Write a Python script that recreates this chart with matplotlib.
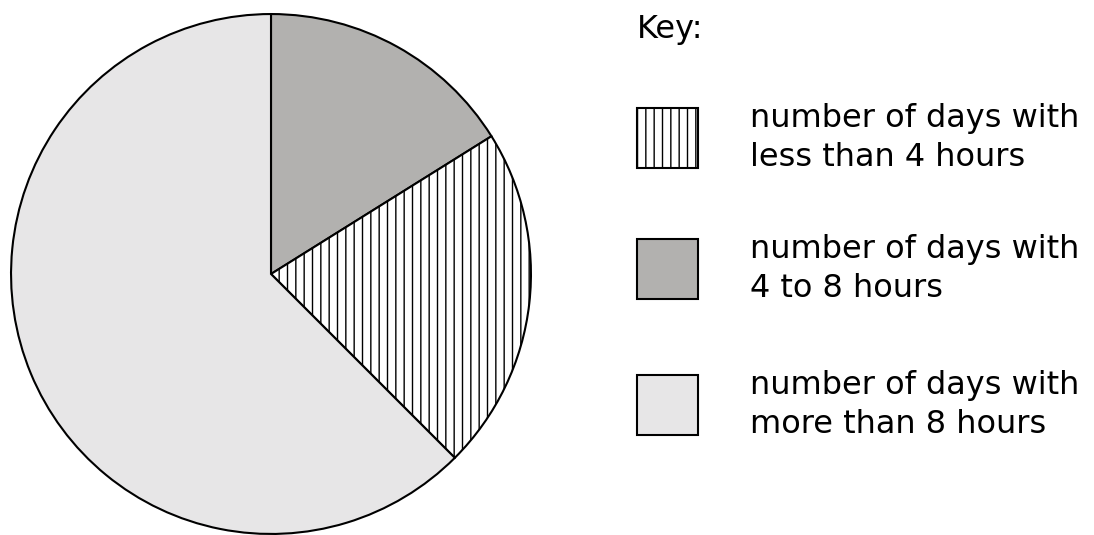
import matplotlib
matplotlib.use("Agg")
import matplotlib.pyplot as plt
from matplotlib.patches import Rectangle

# Data (slice sizes, in degrees of the circle)
categories = ["number of days with\n4 to 8 hours",
              "number of days with\nless than 4 hours",
              "number of days with\nmore than 8 hours"]
values = [58, 77, 225]
fills = ["#b2b1af", "white", "#e7e6e7"]
hatches = [None, "||", None]

# legend order as shown in the key
legend_order = [1, 0, 2]

plt.rcParams['font.family'] = ['DejaVu Sans']
plt.rcParams['hatch.linewidth'] = 1.0
plt.rcParams['hatch.color'] = '#444444'

W, H = 1094, 535
fig = plt.figure(figsize=(W / 100, H / 100), dpi=100)

# pie axes (pixel layout)
cx, cy, r = 271, 274, 261
ax = fig.add_axes([(cx - r) / W, (H - cy - r) / H, 2 * r / W, 2 * r / H])
wedges, _ = ax.pie(values, startangle=90, counterclock=False, colors=fills,
                   wedgeprops=dict(edgecolor="black", linewidth=1.5))
for w, h in zip(wedges, hatches):
    if h:
        w.set_hatch(h)
ax.set_aspect("equal")
ax.set_xlim(-1.004, 1.004)
ax.set_ylim(-1.004, 1.004)
ax.axis("off")

# key
fs = 23
fig.text(637 / W, 1 - 38 / H, "Key:", fontsize=fs, va="baseline", ha="left")
box_tops = [108, 239, 375]
for top, idx in zip(box_tops, legend_order):
    rect = Rectangle((637 / W, 1 - (top + 60) / H), 61 / W, 60 / H,
                     transform=fig.transFigure, facecolor=fills[idx],
                     edgecolor="black", linewidth=1.5,
                     hatch=hatches[idx])
    fig.add_artist(rect)
    lines = categories[idx].split("\n")
    fig.text(750 / W, 1 - (top + 19) / H, lines[0], fontsize=fs,
             va="baseline", ha="left")
    fig.text(750 / W, 1 - (top + 58) / H, lines[1], fontsize=fs,
             va="baseline", ha="left")

fig.savefig("out.png", dpi=100)
